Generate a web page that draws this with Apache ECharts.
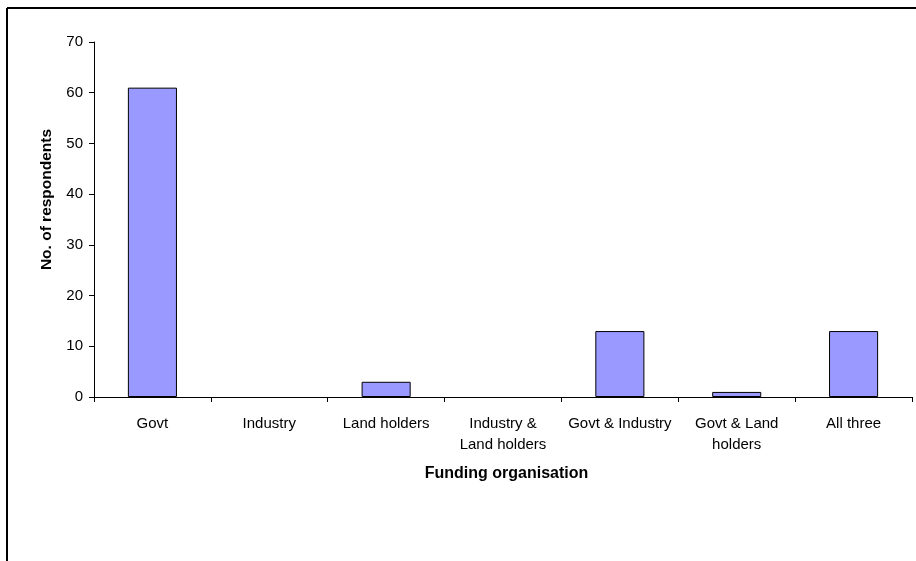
<!DOCTYPE html>
<html>
<head>
<meta charset="utf-8">
<script src="https://cdn.jsdelivr.net/npm/echarts@6/dist/echarts.min.js"></script>
<style>html,body{margin:0;padding:0;background:#fff;}#c{width:916px;height:561px;}</style>
</head>
<body>
<div id="c"></div>
<script>
const categories = ['Govt', 'Industry', 'Land holders', 'Industry &\nLand holders', 'Govt & Industry', 'Govt & Land\nholders', 'All three'];
const respondents = [61, 0, 3, 0, 13, 1, 13];
const yTicks = { min: 0, max: 70, interval: 10 };

const chart = echarts.init(document.getElementById('c'));
const font = 'Arial, "Liberation Sans", sans-serif';
chart.setOption({
  animation: false,
  backgroundColor: '#fff',
  graphic: [
    { type: 'line', shape: { x1: 7, y1: 8, x2: 916, y2: 8 }, style: { stroke: '#000', lineWidth: 2 } },
    { type: 'line', shape: { x1: 7, y1: 8, x2: 7, y2: 561 }, style: { stroke: '#000', lineWidth: 2 } }
  ],
  grid: { left: 94, top: 42, right: 4, bottom: 164, containLabel: false },
  xAxis: {
    type: 'category',
    data: categories,
    name: 'Funding organisation',
    nameLocation: 'middle',
    nameGap: 69,
    nameTextStyle: { fontFamily: font, fontSize: 16, fontWeight: 'bold', color: '#000', padding: [0, 0, 0, 7] },
    axisLine: { lineStyle: { color: '#000', width: 1 } },
    axisTick: { show: true, length: 5, lineStyle: { color: '#000' } },
    axisLabel: { fontFamily: font, fontSize: 15, color: '#000', margin: 16, lineHeight: 21, interval: 0 }
  },
  yAxis: {
    type: 'value',
    min: yTicks.min, max: yTicks.max, interval: yTicks.interval,
    name: 'No. of respondents',
    nameLocation: 'middle',
    nameGap: 39,
    nameRotate: 90,
    nameTextStyle: { fontFamily: font, fontSize: 15.5, fontWeight: 'bold', color: '#000', padding: [0, 0, 0, 40] },
    axisLine: { show: true, lineStyle: { color: '#000', width: 1 } },
    axisTick: { show: true, length: 5, lineStyle: { color: '#000' } },
    splitLine: { show: false },
    axisLabel: { fontFamily: font, fontSize: 15, color: '#000', margin: 11 }
  },
  series: [{
    type: 'bar',
    data: respondents.map(v => ({ value: v, itemStyle: { borderWidth: v === 0 ? 0 : 1 } })),
    barWidth: '42%',
    itemStyle: { color: '#9999FF', borderColor: '#000', borderWidth: 1 }
  }]
});
</script>
</body>
</html>
